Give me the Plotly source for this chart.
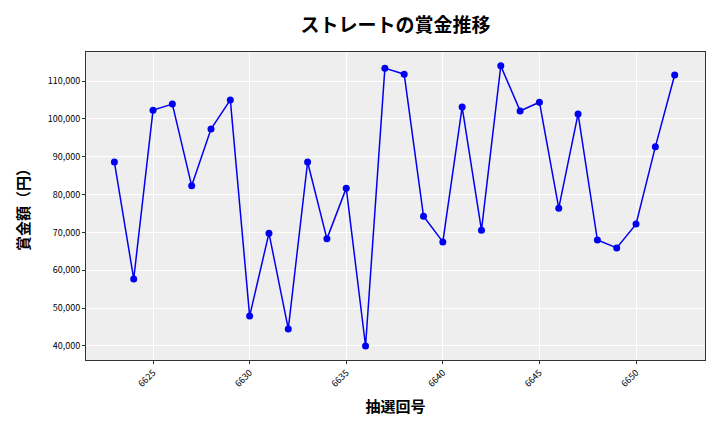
import plotly.graph_objects as go

draws = list(range(6623, 6653))
prizes = [88600, 57700, 102300, 103900, 82300, 97300, 105000, 47900, 69800, 44500,
          88600, 68300, 81700, 40000, 113400, 111800, 74300, 67500, 103100, 70600,
          114000, 102100, 104400, 76400, 101300, 68000, 65900, 72200, 92600, 111600]
x_ticks = [6625, 6630, 6635, 6640, 6645, 6650]
y_ticks = [40000, 50000, 60000, 70000, 80000, 90000, 100000, 110000]

FONT = "Noto Sans CJK JP"

fig = go.Figure()
fig.add_trace(go.Scatter(
    x=draws, y=prizes, mode="lines+markers",
    line=dict(color="#0000F0", width=1.5),
    marker=dict(color="#0000F0", size=7),
))

fig.update_layout(
    width=720, height=432,
    margin=dict(l=86, r=15, t=52, b=72),
    paper_bgcolor="white",
    plot_bgcolor="#EEEEEE",
    showlegend=False,
    font=dict(family=FONT, color="black"),
    title=dict(text="<b>ストレートの賞金推移</b>", x=0.5, xref="paper", xanchor="center",
               y=0.942, yanchor="middle", font=dict(size=19, family=FONT)),
)
fig.update_xaxes(
    range=[6621.53, 6653.57],
    tickvals=x_ticks, ticktext=[str(v) for v in x_ticks],
    tickangle=-45, tickfont=dict(size=9),
    ticks="outside", ticklen=3, tickcolor="#333",
    showgrid=True, gridcolor="white", gridwidth=1,
    showline=True, linecolor="#333", linewidth=1, mirror=True,
    zeroline=False,
    title=dict(text="<b>抽選回号</b>", font=dict(size=15), standoff=12),
)
fig.update_yaxes(
    range=[36300, 117660],
    tickvals=y_ticks, ticktext=[f"{v:,}" for v in y_ticks],
    tickfont=dict(size=9),
    ticks="outside", ticklen=3, tickcolor="#333",
    showgrid=True, gridcolor="white", gridwidth=1,
    showline=True, linecolor="#333", linewidth=1, mirror=True,
    zeroline=False,
    title=dict(text="<b>賞金額（円）</b>", font=dict(size=15), standoff=14),
)

fig.write_html("out.html")
